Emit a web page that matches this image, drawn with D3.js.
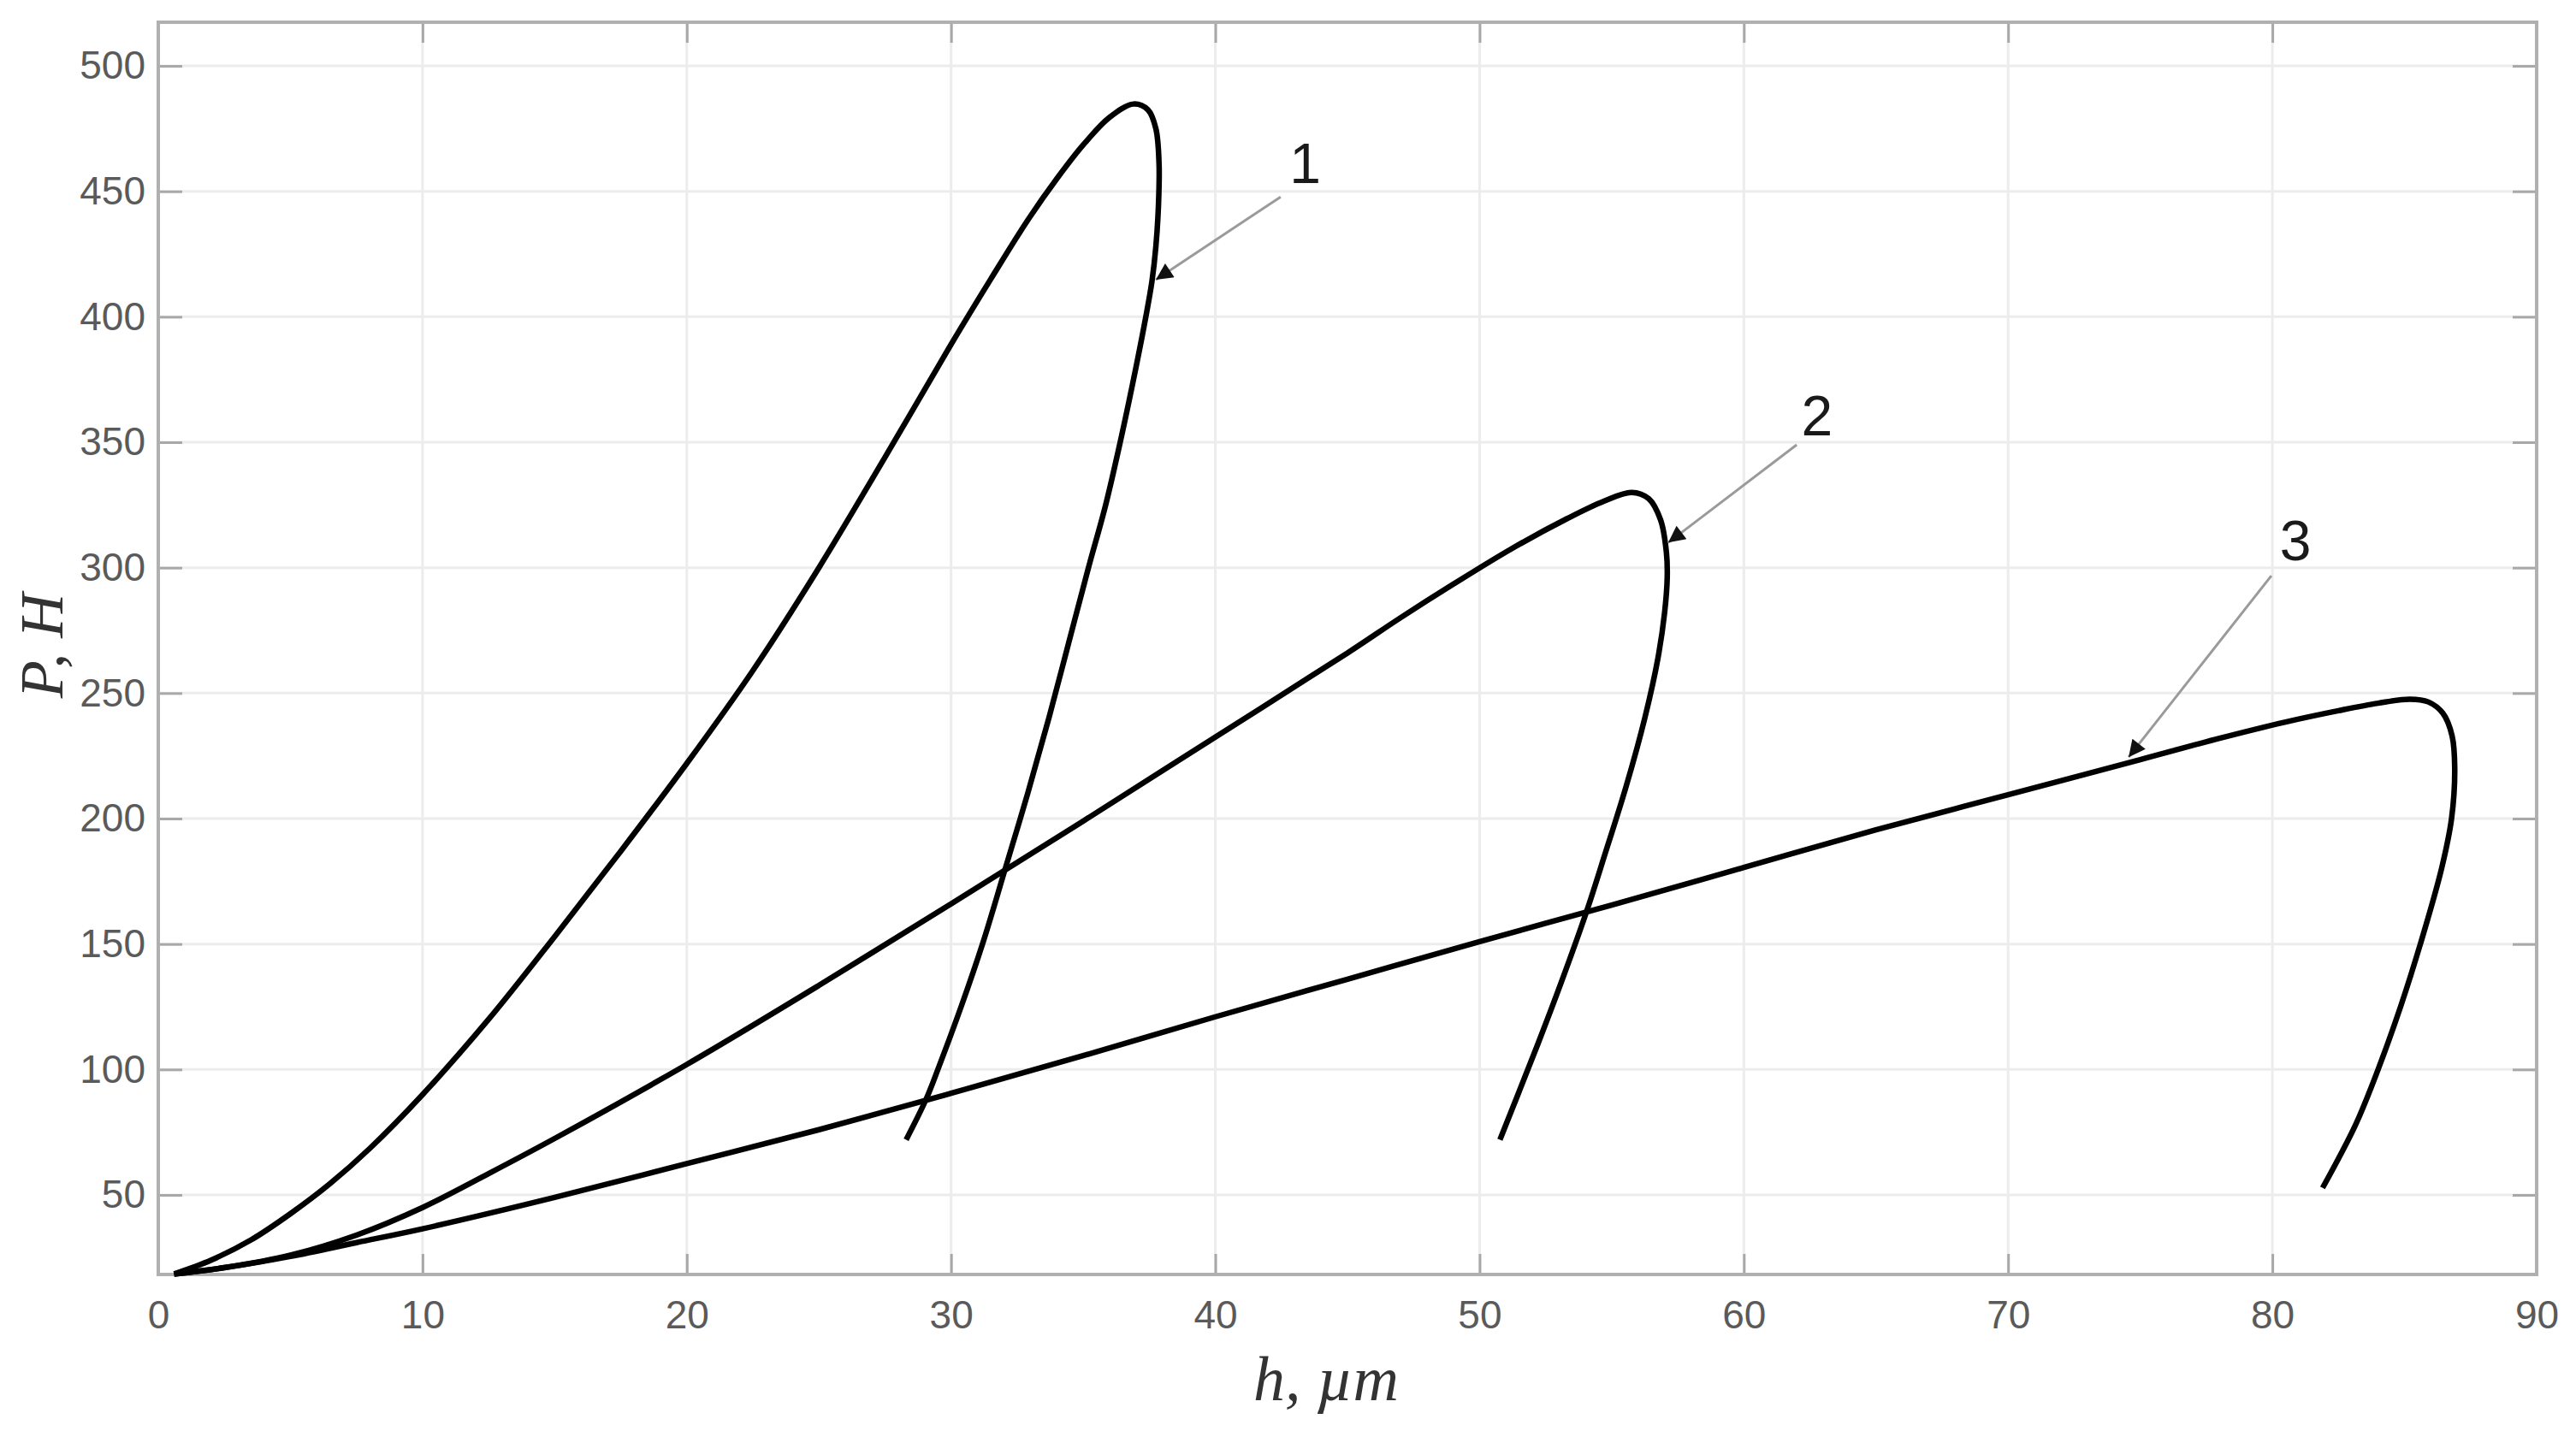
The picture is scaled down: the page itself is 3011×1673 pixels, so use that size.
<!DOCTYPE html>
<html>
<head>
<meta charset="utf-8">
<script src="https://cdn.jsdelivr.net/npm/d3@7/dist/d3.min.js"></script>
<style>
  html, body { margin: 0; padding: 0; background: #fff; }
  svg { display: block; }
</style>
</head>
<body>
<script>
// ---------- data (h in µm, P in H) ----------
const h1 = [0.6, 2, 3.5, 5, 6.5, 8, 10, 12.5, 15, 17.5, 20, 22.5, 25, 27.5, 30, 31.5, 32.9, 34, 35, 36, 36.9,
            37.45, 37.75, 37.87, 37.85, 37.75, 37.6, 37.37, 37.0, 36.4, 35.85, 35.2, 34.45, 33.7, 32.9, 32.05, 31.22, 30.38, 29.5, 29.05, 28.3];
const p1 = [18.5, 24, 32, 42.5, 54.5, 68.5, 90, 120, 153, 187, 222, 259, 300, 344, 389, 415, 438.5, 455, 468.5, 479.5, 484.8,
            482.5, 475, 461, 445, 428, 414, 400, 380, 350, 325, 300, 270, 240, 210, 180, 151, 125, 100, 88, 72];

const h2 = [0.6, 2.5, 5, 7.5, 10, 12.5, 15, 20, 25, 30, 35, 40, 45, 47, 49, 51.2, 53.3, 54.7, 55.75,
            56.4, 56.85, 57.07, 57.1, 57.0, 56.75, 56.25, 55.55, 54.75, 54.05, 53.1, 52.2, 51.45, 50.77];
const p2 = [18.5, 21, 26, 34, 45, 58.5, 72.5, 102, 133.5, 166, 199, 232.5, 266, 280, 293.4, 307.5, 319.5, 326.5, 330,
            327.5, 319, 306, 296, 282, 264, 240, 213, 186, 163, 135, 110, 90, 72];

const h3 = [0.6, 2.5, 5, 7.5, 10, 15, 20, 25, 30, 35, 40, 45, 50, 55, 60, 65, 70, 75, 78, 80.5, 82.5, 84, 85.2,
            85.9, 86.45, 86.8, 86.9, 86.78, 86.4, 85.6, 84.85, 84.0, 83.15, 81.9];
const p3 = [18.5, 21, 25.5, 31, 36.5, 49, 62.5, 76, 90.5, 105.5, 121, 136, 151, 165.5, 180.5, 195.5, 209.5, 223.5, 232, 238.5, 243, 246, 247.6,
            246.5, 242, 233, 220, 200, 180, 150, 125, 100, 78, 52.8];

const xTicks = [0, 10, 20, 30, 40, 50, 60, 70, 80, 90];
const yTicks = [50, 100, 150, 200, 250, 300, 350, 400, 450, 500];
const xDomain = [0, 90];
const yDomain = [18.3, 517.4];

// annotation labels: text, label point, arrow start, arrow tip (data coords)
const annLabels = ["1", "2", "3"];
const annLabelH = [43.4, 62.77, 80.87];
const annLabelP = [461, 360.6, 310.8];
const annFromH = [42.47, 62.0, 79.96];
const annFromP = [447.8, 349, 296.8];
const annToH = [37.75, 57.14, 74.56];
const annToP = [414.8, 310, 224.5];

const xLabel = "h, µm";
const yLabel = "P, H";

// ---------- layout ----------
const W = 3011, H = 1673;
const L = 185, R = 2965, T = 26, B = 1490;

const svg = d3.select("body").append("svg").attr("width", W).attr("height", H);

const x = d3.scaleLinear().domain(xDomain).range([L, R]);
const y = d3.scaleLinear().domain(yDomain).range([B, T]);

// grid
const grid = svg.append("g");
grid.selectAll("line.gx").data(xTicks.slice(1, -1)).join("line")
  .attr("x1", d => x(d)).attr("x2", d => x(d)).attr("y1", T).attr("y2", B)
  .attr("stroke", "#ececec").attr("stroke-width", 3);
grid.selectAll("line.gy").data(yTicks).join("line")
  .attr("x1", L).attr("x2", R).attr("y1", d => y(d)).attr("y2", d => y(d))
  .attr("stroke", "#ececec").attr("stroke-width", 3);

// axes (ticks inside, mirrored)
const tickFont = "Liberation Sans, Arial, sans-serif";
function styleAxis(g) {
  g.select(".domain").remove();
  g.selectAll(".tick line").attr("stroke", "#a8a8a8").attr("stroke-width", 3);
  g.selectAll(".tick text").attr("fill", "#5a5a5a").style("font-family", tickFont).style("font-size", "46px");
}
svg.append("g").attr("transform", `translate(0,${B})`)
  .call(d3.axisBottom(x).tickValues(xTicks).tickSizeInner(-24).tickSizeOuter(0).tickPadding(30).tickFormat(d3.format("d")))
  .call(styleAxis);
svg.append("g").attr("transform", `translate(0,${T})`)
  .call(d3.axisTop(x).tickValues(xTicks).tickSizeInner(-24).tickSizeOuter(0).tickFormat(""))
  .call(styleAxis);
svg.append("g").attr("transform", `translate(${L},0)`)
  .call(d3.axisLeft(y).tickValues(yTicks).tickSizeInner(-28).tickSizeOuter(0).tickPadding(15).tickFormat(d3.format("d")))
  .call(styleAxis);
svg.append("g").attr("transform", `translate(${R},0)`)
  .call(d3.axisRight(y).tickValues(yTicks).tickSizeInner(-28).tickSizeOuter(0).tickFormat(""))
  .call(styleAxis);

// frame
svg.append("rect").attr("x", L).attr("y", T).attr("width", R - L).attr("height", B - T)
  .attr("fill", "none").attr("stroke", "#b0b0b0").attr("stroke-width", 4);

// curves
const line = d3.line().x(d => x(d[0])).y(d => y(d[1])).curve(d3.curveCatmullRom.alpha(0.5));
const series = [[h1, p1], [h2, p2], [h3, p3]];
svg.append("g").selectAll("path").data(series).join("path")
  .attr("d", s => line(s[0].map((hv, i) => [hv, s[1][i]])))
  .attr("fill", "none").attr("stroke", "#000").attr("stroke-width", 6.5)
  .attr("stroke-linejoin", "round").attr("stroke-linecap", "butt");

// arrow marker
svg.append("defs").append("marker")
  .attr("id", "ah").attr("viewBox", "0 0 10 10").attr("refX", 10).attr("refY", 5)
  .attr("markerWidth", 8).attr("markerHeight", 6.5).attr("markerUnits", "strokeWidth").attr("orient", "auto")
  .append("path").attr("d", "M0,0 L10,5 L0,10 Z").attr("fill", "#111");

const ann = svg.append("g");
annLabels.forEach((t, i) => {
  ann.append("line")
    .attr("x1", x(annFromH[i])).attr("y1", y(annFromP[i]))
    .attr("x2", x(annToH[i])).attr("y2", y(annToP[i]))
    .attr("stroke", "#9a9a9a").attr("stroke-width", 3).attr("marker-end", "url(#ah)");
  ann.append("text")
    .attr("x", x(annLabelH[i])).attr("y", y(annLabelP[i]))
    .attr("text-anchor", "middle").attr("dominant-baseline", "central")
    .style("font-family", tickFont).style("font-size", "66px").attr("fill", "#1a1a1a")
    .text(t);
});

// axis titles
svg.append("text")
  .attr("x", 1550).attr("y", 1637).attr("text-anchor", "middle")
  .style("font-family", "Liberation Serif, Times New Roman, serif").style("font-style", "italic")
  .style("font-size", "74px").attr("fill", "#333").text(xLabel);
svg.append("text")
  .attr("transform", "translate(73,755) rotate(-90)").attr("text-anchor", "middle")
  .style("font-family", "Liberation Serif, Times New Roman, serif").style("font-style", "italic")
  .style("font-size", "72px").attr("fill", "#333").text(yLabel);
</script>
</body>
</html>
